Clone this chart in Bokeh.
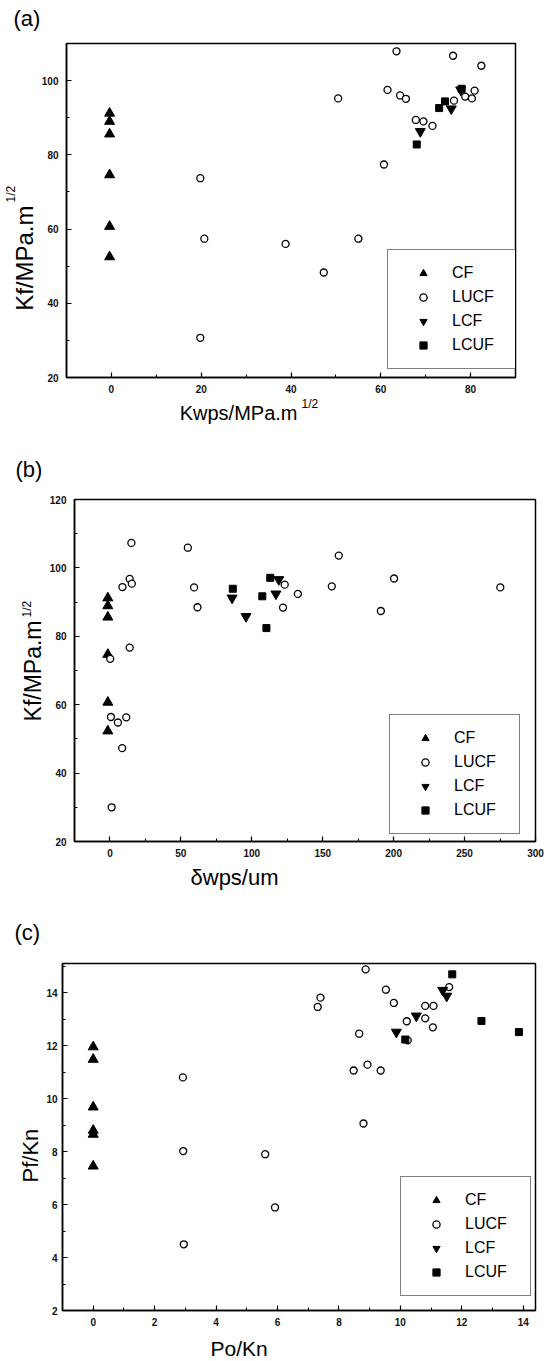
import math
from bokeh.plotting import figure
from bokeh.models import Range1d, SingleIntervalTicker, Label, Legend, LegendItem
from bokeh.layouts import column, row
from bokeh.embed import file_html
from bokeh.resources import INLINE

# ---------------- data ----------------
series_names = ["CF", "LUCF", "LCF", "LCUF"]

# (a) Kf vs Kwps
a_cf_x = [-0.4, -0.4, -0.4, -0.4, -0.4, -0.4]
a_cf_y = [91.2, 89.0, 85.6, 74.6, 60.7, 52.5]
a_lucf_x = [50.5, 63.5, 61.5, 64.3, 65.6, 76.1, 82.4, 67.8, 69.5, 71.5, 60.7,
            19.8, 76.3, 78.8, 80.3, 80.9, 20.7, 38.8, 55.0, 47.3, 19.8]
a_lucf_y = [95.2, 107.9, 97.5, 96.0, 95.1, 106.7, 104.0, 89.4, 89.0, 87.8, 77.4,
            73.7, 94.6, 95.7, 95.2, 97.3, 57.4, 56.0, 57.4, 48.3, 30.7]
a_lcf_x = [68.8, 75.7, 77.8]
a_lcf_y = [86.3, 92.4, 97.5]
a_lcuf_x = [68.0, 73.0, 74.3, 78.0]
a_lcuf_y = [82.8, 92.6, 94.4, 97.8]

# (b) Kf vs delta wps
b_cf_x = [-1.5, -1.5, -1.5, -1.5, -1.5, -1.5]
b_cf_y = [91.2, 88.9, 85.6, 74.7, 60.7, 52.3]
b_lucf_x = [15.1, 8.8, 13.9, 15.4, 54.9, 59.3, 61.7, 123.2, 122.0, 132.5, 156.4,
            161.3, 200.3, 191.0, 275.2, 0.2, 13.9, 0.7, 5.6, 11.5, 8.6, 1.2]
b_lucf_y = [107.3, 94.4, 96.8, 95.4, 105.9, 94.3, 88.5, 95.1, 88.4, 92.4, 94.6,
            103.6, 96.9, 87.4, 94.3, 73.4, 76.7, 56.4, 54.8, 56.3, 47.3, 30.0]
b_lcf_x = [86.1, 95.9, 117.0, 119.0]
b_lcf_y = [91.2, 85.8, 92.4, 96.6]
b_lcuf_x = [86.6, 107.4, 113.0, 110.3]
b_lcuf_y = [93.9, 91.7, 97.1, 82.4]

# (c) Pf vs Po
c_cf_x = [0.0, 0.0, 0.0, 0.0, 0.0, 0.0]
c_cf_y = [11.95, 11.48, 9.68, 8.8, 8.65, 7.45]
c_lucf_x = [8.87, 7.31, 7.40, 8.66, 8.48, 8.93, 9.36, 9.53, 9.79, 10.21, 10.24,
            10.81, 11.08, 10.81, 11.06, 11.59, 2.92, 2.93, 5.60, 5.92, 2.95, 8.80]
c_lucf_y = [14.88, 13.46, 13.81, 12.45, 11.06, 11.28, 11.06, 14.11, 13.61, 12.92, 12.20,
            13.50, 13.50, 13.03, 12.69, 14.21, 10.80, 8.02, 7.90, 5.89, 4.50, 9.06]
c_lcf_x = [9.87, 10.52, 11.38, 11.51]
c_lcf_y = [12.51, 13.12, 14.09, 13.87]
c_lcuf_x = [10.16, 11.69, 12.64, 13.86]
c_lcuf_y = [12.23, 14.69, 12.93, 12.51]

FONT = "Liberation Sans"
W = 546
HALF_PI = math.pi / 2


def no_align(f):
    try:
        f.frame_align = False
    except Exception:
        pass


def text_strip(w, h, texts):
    """A plain canvas whose frame is the whole figure; texts are placed in pixels."""
    f = figure(width=w, height=h, output_backend="svg", toolbar_location=None,
               x_range=Range1d(0, w), y_range=Range1d(h, 0),
               x_axis_type=None, y_axis_type=None, min_border=0)
    f.outline_line_color = None
    f.background_fill_color = "white"
    f.border_fill_color = "white"
    no_align(f)
    for text, x, y, size, align, ang in texts:
        f.add_layout(Label(x=x, y=y, text=text, text_font=FONT, text_font_size=size,
                           text_align=align, text_baseline="middle", angle=ang,
                           text_color="black"))
    return f


def main_plot(spec):
    w, h = spec["size"]
    bl, br, bt, bb = spec["borders"]
    x0, x1 = spec["xr"]
    y0, y1 = spec["yr"]
    p = figure(width=w, height=h, output_backend="svg", toolbar_location=None,
               x_range=Range1d(x0, x1), y_range=Range1d(y0, y1),
               min_border_left=bl, min_border_right=br,
               min_border_top=bt, min_border_bottom=bb)
    no_align(p)
    p.background_fill_color = "white"
    p.border_fill_color = "white"
    p.outline_line_color = "black"
    p.outline_line_width = 1.5
    p.xgrid.visible = False
    p.ygrid.visible = False

    p.xaxis.ticker = SingleIntervalTicker(interval=spec["xint"], num_minor_ticks=2)
    p.yaxis.ticker = SingleIntervalTicker(interval=spec["yint"], num_minor_ticks=2)
    for ax, standoff in ((p.xaxis[0], 7), (p.yaxis[0], spec["ystandoff"])):
        ax.axis_line_width = 1.5
        ax.axis_line_color = "black"
        ax.major_tick_in = 5
        ax.major_tick_out = 0
        ax.minor_tick_in = 3
        ax.minor_tick_out = 0
        ax.major_tick_line_color = "black"
        ax.minor_tick_line_color = "black"
        ax.major_tick_line_width = 1.2
        ax.major_label_text_font = FONT
        ax.major_label_text_font_size = "10px"
        ax.major_label_text_font_style = "bold"
        ax.major_label_text_color = "#111111"
        ax.major_label_standoff = standoff

    xs, ys = spec["data"]
    r_cf = p.scatter(xs[0], ys[0], marker="triangle", size=10, color="black")
    r_lucf = p.scatter(xs[1], ys[1], marker="circle", size=7, fill_color="white",
                       line_color="black", line_width=1.3)
    r_lcf = p.scatter(xs[2], ys[2], marker="inverted_triangle", size=10, color="black")
    r_lcuf = p.scatter(xs[3], ys[3], marker="square", size=7, color="black")

    items = [LegendItem(label=n, renderers=[r]) for n, r in
             zip(series_names, [r_cf, r_lucf, r_lcf, r_lcuf])]
    leg = Legend(items=items, location=spec["legend_loc"], orientation="vertical",
                 padding=14, spacing=6, glyph_width=42, glyph_height=18,
                 label_height=18, label_width=51, label_standoff=8,
                 label_text_font=FONT, label_text_font_size="16px",
                 label_text_color="black", border_line_color="black",
                 border_line_width=1, background_fill_color="white",
                 background_fill_alpha=1.0, margin=0)
    p.add_layout(leg)
    return p


# ---------------- panel (a) ----------------
T_a = text_strip(W, 38, [("(a)", 13, 18, "22px", "left", 0)])
L_a = text_strip(38, 358, [
    ("Kf/MPa.m", 23.5, 167, "24px", "right", HALF_PI),
    ("1/2", 10, 164, "12px", "left", HALF_PI),
])
M_a = main_plot(dict(
    size=(508, 358), borders=(27, 31, 5, 19), xr=(-10, 90), yr=(20, 110),
    xint=20, yint=20, ystandoff=8,
    data=([a_cf_x, a_lucf_x, a_lcf_x, a_lcuf_x], [a_cf_y, a_lucf_y, a_lcf_y, a_lcuf_y]),
    legend_loc=(321, 8),
))
B_a = text_strip(W, 40, [
    ("Kwps/MPa.m", 297, 16, "20px", "right", 0),
    ("1/2", 301, 7, "12px", "left", 0),
])

# ---------------- panel (b) ----------------
T_b = text_strip(W, 58, [("(b)", 15, 33, "22px", "left", 0)])
L_b = text_strip(46, 367, [
    ("Kf/MPa.m", 32.5, 126, "23px", "right", HALF_PI),
    ("1/2", 26.3, 123, "12px", "left", HALF_PI),
])
M_b = main_plot(dict(
    size=(500, 367), borders=(28, 11, 5, 20), xr=(-25, 300), yr=(20, 120),
    xint=50, yint=20, ystandoff=8,
    data=([b_cf_x, b_lucf_x, b_lcf_x, b_lcuf_x], [b_cf_y, b_lucf_y, b_lcf_y, b_lcuf_y]),
    legend_loc=(315, 7),
))
B_b = text_strip(W, 29, [("\u03b4wps/um", 190, 16.3, "22px", "left", 0)])

# ---------------- panel (c) ----------------
T_c = text_strip(W, 68, [("(c)", 14, 42, "22px", "left", 0)])
L_c = text_strip(43, 372, [("Pf/Kn", 30, 224, "22px", "left", HALF_PI)])
M_c = main_plot(dict(
    size=(503, 372), borders=(17, 11, 5, 20), xr=(-1, 14.4), yr=(2, 15.1),
    xint=2, yint=2, ystandoff=5,
    data=([c_cf_x, c_lucf_x, c_lcf_x, c_lcuf_x], [c_cf_y, c_lucf_y, c_lcf_y, c_lcuf_y]),
    legend_loc=(338, 14),
))
B_c = text_strip(W, 31, [("Po/Kn", 210, 17.7, "21px", "left", 0)])

rows = []
for t, l, m, b in ((T_a, L_a, M_a, B_a), (T_b, L_b, M_b, B_b), (T_c, L_c, M_c, B_c)):
    r = row(l, m, spacing=0)
    rows.extend([t, r, b])

layout = column(*rows, spacing=0)
open("out.html", "w").write(file_html(layout, INLINE))
